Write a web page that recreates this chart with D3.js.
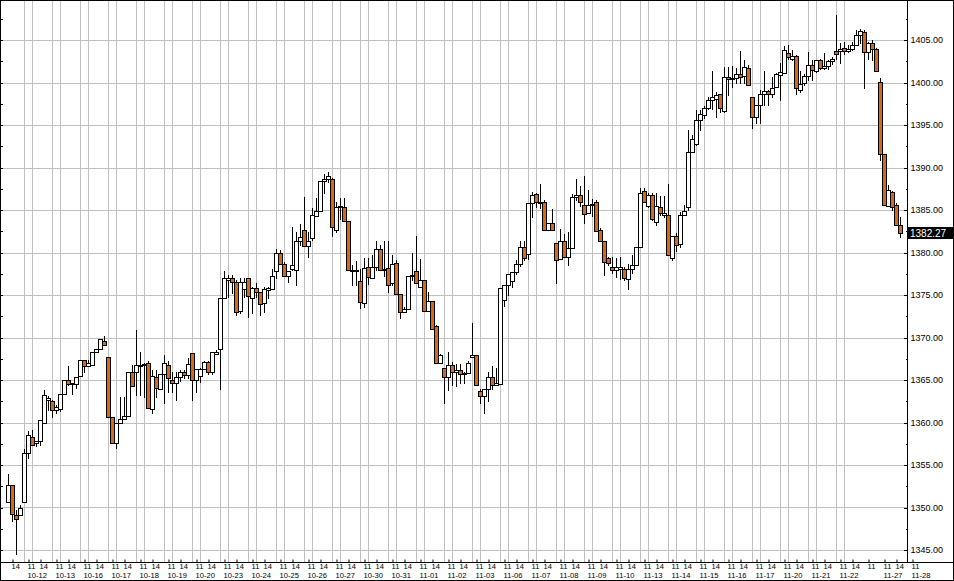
<!DOCTYPE html>
<html><head><meta charset="utf-8">
<script src="https://cdn.jsdelivr.net/npm/d3@7"></script>
<style>body{margin:0;background:#fff}svg{display:block}</style>
</head><body><div id="chart"></div>
<script>
// hourly bars, 10-11 13:00 .. 11-27 15:00
var open = [1350.7,1352.6,1349.1,1349.1,1350.7,1356.4,1358.3,1357.6,1357.8,1360.0,1362.6,1362.5,1361.5,1361.6,1363.3,1365.0,1364.5,1364.5,1365.5,1367.4,1366.7,1366.8,1368.3,1368.7,1369.6,1367.7,1360.6,1357.6,1359.9,1360.4,1360.8,1365.9,1365.9,1366.7,1366.8,1367.0,1361.6,1365.4,1364.0,1365.7,1366.8,1365.0,1364.7,1365.3,1365.9,1365.6,1368.2,1365.0,1365.5,1366.3,1367.1,1365.9,1368.1,1368.6,1374.6,1376.8,1377.0,1376.5,1373.1,1375.7,1377.0,1374.6,1375.8,1375.3,1374.0,1375.6,1375.7,1377.8,1379.9,1378.7,1377.2,1378.1,1378.0,1381.4,1382.6,1380.8,1381.7,1384.3,1384.9,1388.4,1388.6,1388.6,1382.7,1385.3,1385.4,1383.7,1377.8,1377.9,1376.7,1374.1,1378.3,1377.0,1378.3,1380.4,1377.9,1378.2,1376.4,1378.8,1375.1,1373.0,1373.4,1377.2,1377.8,1376.0,1376.8,1373.1,1374.3,1371.3,1367.0,1366.4,1365.3,1366.8,1365.9,1366.2,1365.7,1365.8,1367.7,1367.9,1363.7,1363.1,1363.9,1365.4,1364.4,1364.5,1374.4,1376.2,1376.6,1377.7,1378.7,1380.6,1379.8,1385.8,1386.9,1385.9,1385.9,1382.7,1383.5,1381.1,1379.2,1381.4,1379.5,1380.5,1386.5,1386.8,1385.6,1384.6,1385.6,1385.9,1382.6,1381.3,1379.3,1378.3,1377.9,1378.1,1378.1,1376.9,1378.1,1378.5,1380.6,1387.2,1385.5,1386.8,1383.6,1385.4,1384.4,1384.4,1379.4,1381.9,1381.0,1384.4,1385.3,1391.8,1392.8,1395.6,1396.2,1397.0,1398.0,1398.1,1398.6,1396.7,1400.6,1400.4,1400.5,1401.0,1400.8,1401.7,1398.3,1395.9,1397.3,1398.7,1399.0,1398.6,1399.5,1400.9,1401.1,1403.5,1402.8,1403.1,1399.1,1399.9,1400.8,1402.1,1401.4,1402.7,1401.7,1401.9,1402.5,1403.7,1403.7,1404.1,1403.7,1403.9,1404.4,1405.6,1405.9,1403.6,1404.7,1404.0,1400.1,1391.6,1385.5,1387.1,1385.6,1383.2];
var high = [1353.9,1352.6,1349.7,1350.3,1356.9,1359.0,1359.1,1357.8,1360.3,1363.8,1363.1,1362.6,1362.1,1363.3,1365.0,1366.6,1364.7,1365.4,1367.4,1367.4,1367.3,1368.3,1368.7,1369.8,1370.2,1367.7,1360.6,1359.9,1363.0,1363.0,1365.9,1366.8,1370.9,1368.3,1367.0,1367.2,1366.2,1366.2,1365.7,1368.0,1367.2,1366.0,1366.0,1366.2,1366.2,1367.6,1368.2,1366.3,1366.4,1367.2,1367.2,1368.3,1368.5,1374.6,1377.8,1377.3,1377.3,1376.8,1377.0,1377.0,1377.0,1375.9,1376.4,1375.4,1375.9,1376.0,1378.1,1380.4,1380.3,1378.9,1377.8,1383.0,1382.4,1383.4,1386.5,1382.4,1385.2,1386.4,1388.4,1389.2,1389.5,1388.8,1385.9,1386.4,1386.4,1383.7,1378.5,1379.0,1378.1,1379.3,1379.4,1379.7,1381.3,1380.9,1381.3,1381.3,1379.7,1379.1,1375.1,1373.6,1377.2,1379.9,1381.9,1379.2,1376.8,1375.4,1374.3,1371.5,1368.1,1366.4,1368.3,1367.1,1366.9,1366.9,1366.0,1367.2,1371.7,1367.9,1364.0,1364.0,1365.9,1366.6,1366.4,1375.8,1376.2,1377.5,1377.7,1379.1,1381.4,1381.4,1385.8,1387.1,1387.0,1388.1,1386.2,1383.5,1385.1,1381.1,1382.8,1382.2,1382.4,1386.9,1388.7,1387.8,1389.0,1387.4,1386.3,1386.2,1382.9,1381.3,1379.5,1379.5,1379.4,1379.5,1378.3,1378.7,1379.7,1380.7,1387.6,1387.6,1387.0,1387.0,1387.0,1386.6,1386.6,1388.1,1381.9,1382.3,1384.8,1385.6,1394.4,1393.8,1396.8,1396.8,1397.2,1398.3,1401.3,1398.9,1398.7,1401.8,1401.8,1401.9,1401.7,1403.7,1402.6,1402.1,1398.3,1397.3,1399.1,1401.3,1399.1,1400.6,1401.1,1402.3,1404.3,1404.4,1403.8,1403.2,1401.3,1401.0,1403.6,1402.7,1402.7,1402.8,1403.5,1402.6,1403.0,1407.9,1404.7,1404.8,1404.4,1404.8,1406.2,1406.3,1406.2,1404.8,1405.0,1404.1,1400.5,1391.6,1387.9,1387.2,1385.8,1384.2];
var low = [1350.6,1348.4,1344.5,1349.1,1350.7,1355.8,1357.4,1357.2,1357.3,1360.0,1361.5,1360.6,1361.1,1361.3,1363.3,1364.4,1363.3,1364.1,1365.5,1366.0,1366.6,1366.8,1368.3,1368.7,1369.1,1360.6,1357.6,1357.0,1359.9,1360.4,1360.8,1364.3,1363.2,1363.2,1363.0,1361.7,1361.1,1363.0,1364.0,1362.3,1363.6,1363.6,1362.7,1364.9,1365.2,1365.2,1362.7,1363.6,1364.8,1366.3,1365.7,1365.7,1368.1,1363.9,1374.6,1374.8,1375.2,1372.6,1372.9,1374.8,1372.4,1372.9,1374.8,1372.6,1373.0,1374.6,1375.7,1377.0,1378.6,1377.2,1376.5,1378.0,1376.2,1380.9,1380.8,1379.5,1381.5,1384.3,1384.9,1387.0,1388.3,1381.9,1382.4,1384.0,1383.7,1377.9,1376.2,1376.2,1373.5,1373.6,1376.3,1377.0,1377.9,1377.9,1377.2,1375.4,1376.2,1375.1,1372.3,1373.0,1373.4,1376.8,1376.4,1376.0,1373.1,1373.1,1371.0,1367.0,1367.0,1362.3,1363.8,1364.4,1364.3,1364.6,1364.6,1365.8,1367.7,1364.4,1362.3,1361.1,1362.5,1363.9,1364.4,1364.5,1373.7,1375.0,1376.0,1377.5,1378.4,1379.1,1379.2,1384.2,1385.4,1385.2,1382.7,1382.7,1382.7,1376.4,1379.2,1379.5,1378.5,1380.5,1386.2,1385.5,1383.5,1384.6,1384.3,1382.5,1381.3,1377.4,1378.5,1377.6,1377.1,1376.9,1376.8,1375.7,1377.6,1378.5,1380.6,1386.0,1385.4,1383.8,1383.2,1384.4,1384.2,1379.7,1379.1,1380.2,1380.7,1384.4,1385.0,1391.8,1392.7,1394.4,1395.8,1396.9,1396.9,1396.0,1396.5,1396.5,1398.5,1399.5,1399.9,1399.9,1399.9,1399.7,1394.7,1395.2,1395.2,1397.3,1397.3,1398.3,1399.5,1397.9,1401.1,1402.8,1402.6,1398.7,1398.9,1399.7,1400.3,1400.3,1401.2,1401.6,1401.6,1401.6,1402.2,1402.8,1402.3,1403.4,1403.6,1403.8,1404.4,1404.6,1399.4,1402.8,1402.6,1401.4,1390.9,1385.6,1385.5,1385.0,1383.2,1381.8];
var close = [1352.6,1349.2,1348.6,1349.9,1356.4,1358.5,1357.4,1357.8,1360.3,1363.2,1362.9,1361.5,1361.8,1363.3,1365.0,1364.5,1364.7,1365.4,1367.4,1366.6,1367.0,1368.3,1368.7,1369.8,1369.1,1360.6,1357.6,1359.9,1360.4,1360.8,1365.9,1364.3,1366.8,1366.8,1366.9,1361.7,1365.5,1364.1,1365.7,1367.0,1365.2,1364.7,1365.3,1365.9,1365.6,1366.9,1365.0,1366.3,1366.3,1367.1,1365.9,1368.3,1368.3,1374.6,1377.0,1377.0,1376.5,1373.0,1376.5,1376.5,1374.9,1375.8,1375.3,1373.9,1375.7,1375.8,1377.2,1379.9,1378.6,1377.2,1377.8,1378.5,1381.4,1381.8,1380.8,1381.4,1384.4,1384.9,1388.4,1388.6,1389.0,1383.0,1385.3,1385.5,1383.7,1377.9,1377.9,1378.0,1374.2,1378.2,1377.1,1378.3,1380.4,1377.9,1378.1,1376.2,1378.6,1375.1,1373.0,1373.3,1377.2,1377.4,1376.4,1376.8,1373.1,1374.3,1371.0,1367.0,1368.0,1365.3,1366.8,1366.0,1366.2,1365.7,1365.8,1367.0,1367.9,1364.4,1363.1,1363.9,1365.4,1364.4,1364.6,1375.8,1376.2,1377.5,1377.7,1378.7,1380.6,1379.4,1385.8,1386.8,1386.0,1386.0,1382.7,1383.5,1382.7,1379.1,1381.4,1379.5,1380.5,1386.5,1386.8,1386.0,1384.5,1385.6,1385.7,1382.5,1381.3,1378.9,1378.8,1377.9,1378.3,1378.3,1377.0,1378.1,1378.5,1380.6,1387.0,1386.0,1386.8,1384.0,1385.5,1384.7,1384.7,1379.7,1381.9,1380.9,1384.4,1384.9,1391.8,1393.3,1395.6,1396.3,1397.0,1398.0,1398.3,1398.5,1397.0,1400.6,1400.4,1400.5,1401.0,1400.7,1401.8,1399.7,1395.9,1397.3,1398.7,1399.0,1398.6,1399.3,1401.0,1401.2,1403.8,1403.0,1403.1,1399.3,1399.8,1400.8,1402.1,1401.5,1402.7,1401.7,1401.9,1402.5,1402.8,1403.3,1404.0,1403.7,1403.9,1404.4,1405.6,1406.1,1403.6,1404.7,1404.0,1401.4,1391.6,1385.6,1387.3,1385.3,1383.2,1382.27];

var dates = ["10-12","10-13","10-16","10-17","10-18","10-19","10-20","10-23","10-24","10-25","10-26","10-27","10-30","10-31","11-01","11-02","11-03","11-06","11-07","11-08","11-09","11-10","11-13","11-14","11-15","11-16","11-17","11-20","11-21","11-22"];
// bar index of the 10:00 bar for every full day, then the odd ones
var dayStart = dates.map(function(d, k) { return 4 + 7 * k; });
var hourTicks = [{bar: 1, text: "14"}];
dayStart.forEach(function(b) {
  hourTicks.push({bar: b + 1, text: "11"});
  hourTicks.push({bar: b + 4, text: "14"});
});
hourTicks.push({bar: 215, text: "11"}, {bar: 219, text: "11"}, {bar: 222, text: "14"}, {bar: 226, text: "11"});
var dateTicks = dayStart.map(function(b, k) { return {bar: b + 1, text: dates[k]}; });
dateTicks.push({bar: 219, text: "11-27"}, {bar: 226, text: "11-28"});
var gridBars = [];
dayStart.forEach(function(b) { gridBars.push(b, b + 2); });

var yMajor = d3.range(1345, 1405.1, 5);
var yMinor = d3.range(1347.5, 1409, 5);
var lastPrice = 1382.27;

var width = 954, height = 581;
var plotRight = 907, plotBottom = 562;
var narrow = 0.95;

var svg = d3.select("#chart").append("svg")
  .attr("width", width)
  .attr("height", height)
  .style("font-family", "'Liberation Sans', Arial, sans-serif");

var x = d3.scaleLinear().domain([0, 223]).range([8, 900]);
var y = d3.scaleLinear().domain([1345, 1405]).range([550, 40]);
function px(i) { return Math.round(x(i)) + 0.5; }
function py(v) { return Math.round(y(v)) + 0.5; }

svg.append("rect").attr("width", width).attr("height", height).attr("fill", "#fff");

// grid
var grid = svg.append("g").attr("stroke", "#c0c0c0").attr("shape-rendering", "crispEdges");
grid.selectAll(".hg").data(yMajor).enter().append("line")
  .attr("x1", 0).attr("x2", plotRight)
  .attr("y1", py).attr("y2", py);
grid.selectAll(".vg").data(gridBars).enter().append("line")
  .attr("x1", px).attr("x2", px)
  .attr("y1", 0).attr("y2", plotBottom);

// candles
var bars = d3.range(open.length);
var candles = svg.append("g").attr("shape-rendering", "crispEdges");
candles.selectAll(".wick").data(bars).enter().append("line")
  .attr("x1", px).attr("x2", px)
  .attr("y1", function(i) { return py(high[i]) - 0.5; })
  .attr("y2", function(i) { return py(low[i]) + 0.5; })
  .attr("stroke", "#000");
candles.selectAll(".body").data(bars).enter().append("rect")
  .attr("x", function(i) { return px(i) - 2; })
  .attr("width", 4)
  .attr("y", function(i) { return py(Math.max(open[i], close[i])); })
  .attr("height", function(i) { return Math.max(1, py(Math.min(open[i], close[i])) - py(Math.max(open[i], close[i]))); })
  .attr("fill", function(i) { return close[i] < open[i] ? "#d2691e" : "#fff"; })
  .attr("stroke", "#000");

// right price axis
var yAxis = d3.axisRight(y).tickValues(yMajor).tickSize(-4).tickPadding(3)
  .tickFormat(d3.format(".2f"));
var ya = svg.append("g").attr("transform", "translate(" + (plotRight + 0.5) + ",0)").call(yAxis);
var yAxisMinor = d3.axisRight(y).tickValues(yMinor).tickSize(-2).tickFormat("");
svg.append("g").attr("transform", "translate(" + (plotRight + 0.5) + ",0)").call(yAxisMinor);
var yAxisLeft = d3.axisRight(y).tickValues(yMajor.concat(yMinor)).tickSize(2).tickFormat("");
svg.append("g").attr("transform", "translate(0.5,0)").call(yAxisLeft);
svg.selectAll(".domain").remove();
svg.selectAll(".tick line").attr("stroke", "#000").attr("shape-rendering", "crispEdges");
ya.selectAll("text").attr("font-size", 9).attr("font-family", "'Liberation Sans', Arial, sans-serif").attr("fill", "#000");

// frame lines
svg.append("line").attr("x1", plotRight + 0.5).attr("x2", plotRight + 0.5)
  .attr("y1", 0).attr("y2", plotBottom).attr("stroke", "#000");
svg.append("line").attr("x1", 0).attr("x2", width)
  .attr("y1", plotBottom + 0.5).attr("y2", plotBottom + 0.5).attr("stroke", "#000");
svg.append("rect").attr("x", 0.5).attr("y", 0.5).attr("width", width - 1).attr("height", height - 1)
  .attr("fill", "none").attr("stroke", "#000");

// time axis: hour row, then date row
var xAxis = d3.axisBottom(x).tickValues(hourTicks.map(function(t) { return t.bar; }))
  .tickSize(-3).tickFormat("");
var xa = svg.append("g").attr("transform", "translate(0.5," + (plotBottom + 0.5) + ")").call(xAxis);
xa.select(".domain").remove();
xa.selectAll(".tick line").attr("stroke", "#000");

svg.append("g").selectAll("text").data(hourTicks).enter().append("text")
  .attr("transform", function(t) { return "translate(" + (Math.round(x(t.bar)) - 0.5) + "," + (plotBottom + 7) + ") scale(" + narrow + ",1)"; })
  .attr("font-size", 8)
  .text(function(t) { return t.text; });
svg.append("g").selectAll("text").data(dateTicks).enter().append("text")
  .attr("transform", function(t) { return "translate(" + (Math.round(x(t.bar)) - 0.5) + "," + (plotBottom + 16) + ") scale(" + narrow + ",1)"; })
  .attr("font-size", 8)
  .text(function(t) { return t.text; });

// last price tag
svg.append("rect").attr("x", plotRight + 1).attr("y", py(lastPrice) - 6.5)
  .attr("width", width - plotRight - 2).attr("height", 12).attr("fill", "#000");
svg.append("text").attr("x", plotRight + 3).attr("y", py(lastPrice) + 3.5)
  .attr("font-size", 10).attr("fill", "#fff")
  .text(d3.format(".2f")(lastPrice));
</script>
</body></html>
